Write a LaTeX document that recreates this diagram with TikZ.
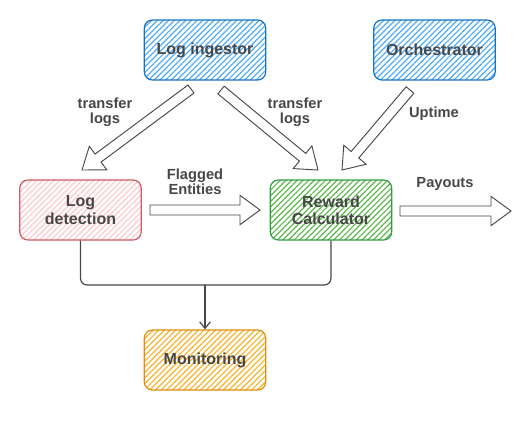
\documentclass[tikz,border=0pt]{standalone}
\usepackage{fontspec}
\setmainfont{Liberation Sans}
\usetikzlibrary{calc,arrows.meta,patterns.meta}

\definecolor{txt}{HTML}{474747}
\definecolor{blueline}{HTML}{1971C2}
\definecolor{bluefill}{HTML}{4DABF7}
\definecolor{redline}{HTML}{D05A5F}
\definecolor{redfill}{HTML}{FFC9C9}
\definecolor{greenline}{HTML}{2F9E44}
\definecolor{greenfill}{HTML}{5CB84A}
\definecolor{orangeline}{HTML}{E08E0B}
\definecolor{orangefill}{HTML}{F5B32A}

\tikzset{
  box/.style={draw, line width=0.9pt, rounded corners=6pt,
    minimum width=91pt, minimum height=45pt, align=center,
    font=\fontsize{12}{13}\selectfont\bfseries, text=txt,
    pattern={Lines[angle=45,distance=3pt,line width=0.9pt]}},
  label/.style={align=center, font=\fontsize{11}{11.5}\selectfont\bfseries, text=txt},
  fat/.style={draw=txt, line width=0.7pt, fill=white, line join=miter},
  flow/.style={draw=txt, line width=0.9pt, rounded corners=5pt}
}

\newcommand{\fatarrow}[2]{%
  \coordinate (hb) at ($(#2)!15pt!(#1)$);
  \draw[fat] ($(#1)!3.75pt!90:(#2)$) -- ($(hb)!3.75pt!90:(#2)$)
    -- ($(hb)!11pt!90:(#2)$) -- (#2) -- ($(hb)!11pt!-90:(#2)$)
    -- ($(hb)!3.75pt!-90:(#2)$) -- ($(#1)!3.75pt!-90:(#2)$) -- cycle;
}

\begin{document}
\begin{tikzpicture}[x=0.75pt, y=-0.75pt]
  \useasboundingbox (0,0) rectangle (531,421);

  \node[box, draw=blueline, pattern color=bluefill] (ingest) at (205,50) {Log ingestor};
  \node[box, draw=blueline, pattern color=bluefill] (orch) at (434.5,50) {Orchestrator};
  \node[box, draw=redline, pattern color=redfill] (detect) at (80.5,210) {Log\\detection};
  \node[box, draw=greenline, pattern color=greenfill] (reward) at (331,210) {Reward\\Calculator};
  \node[box, draw=orangeline, pattern color=orangefill] (monitor) at (205,360) {Monitoring};

  \coordinate (a1s) at (191,89);
  \coordinate (a1e) at (82,170);
  \coordinate (a2s) at (221,90);
  \coordinate (a2e) at (318,170);
  \coordinate (a3s) at (410,90);
  \coordinate (a3e) at (342,170);
  \coordinate (a4s) at (150,210);
  \coordinate (a4e) at (260,210);
  \coordinate (a5s) at (400,211);
  \coordinate (a5e) at (511,211);
  \fatarrow{a1s}{a1e}
  \fatarrow{a2s}{a2e}
  \fatarrow{a3s}{a3e}
  \fatarrow{a4s}{a4e}
  \fatarrow{a5s}{a5e}

  \node[label] (l1) at (105,112) {transfer\\logs};
  \node[label] (l2) at (295,112) {transfer\\logs};
  \node[label] (l3) at (434,114) {Uptime};
  \node[label] (l4) at (195,182) {Flagged\\Entities};
  \node[label] (l5) at (445,184) {Payouts};

  \coordinate (join) at (205,285);
  \draw[flow] (detect.south) |- (join);
  \draw[flow] (reward.south) |- (join);
  \draw[flow, -{Straight Barb[length=5pt,width=8pt]}] (join) -- (monitor.north);
\end{tikzpicture}
\end{document}
